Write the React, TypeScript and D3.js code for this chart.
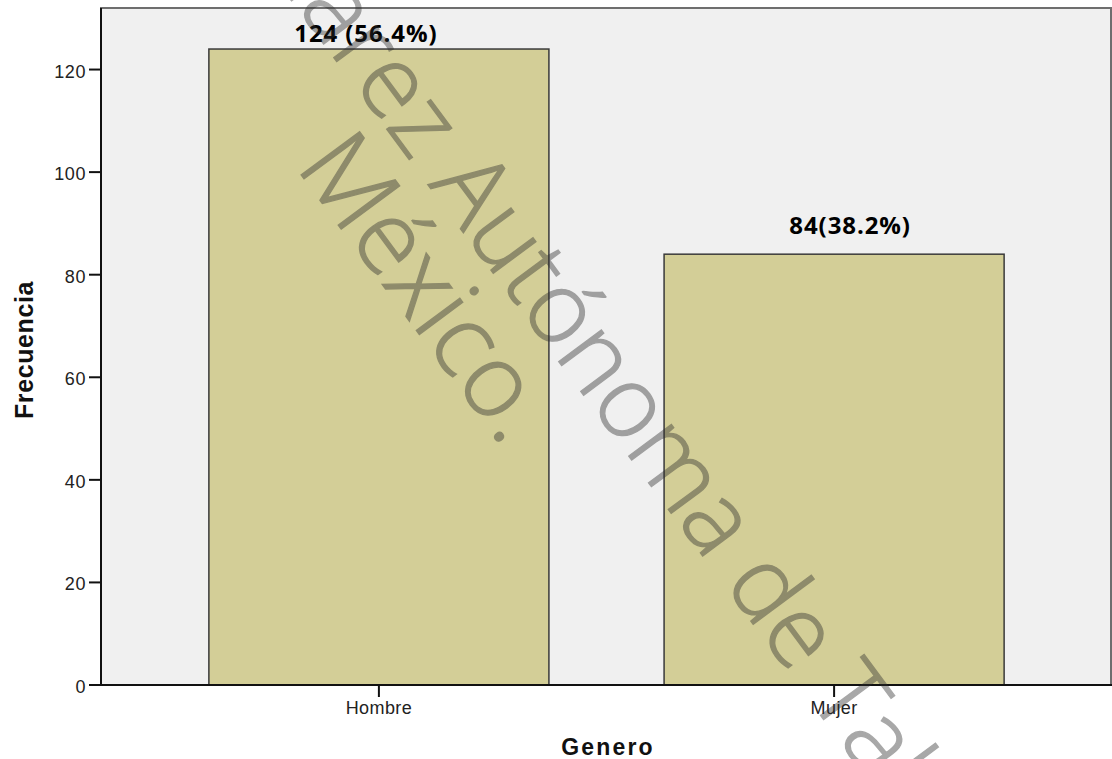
import React from "react";
import * as d3 from "d3";

const categories = ["Hombre", "Mujer"];
const counts = [124, 84];
const barLabels = ["124 (56.4%)", "84(38.2%)"];
const yTicks = [0, 20, 40, 60, 80, 100, 120];
const xTitle = "Genero";
const yTitle = "Frecuencia";
const watermarkLine1a = "Universidad Juárez";
const watermarkLine1b = "Autónoma de Tabasco";
const watermarkLine2 = "México.";

const W = 1112;
const H = 759;
const LEFT = 101;
const RIGHT = 1111;
const TOP = 8;
const BOTTOM = 685;
const LABEL_DX = [-13, 16];
const LABEL_DY = [-7, -20];

export default function App() {
  const x = d3
    .scaleBand<string>()
    .domain(categories)
    .range([LEFT, RIGHT + 1])
    .paddingInner(0.253)
    .paddingOuter(0.237);
  const y = d3.scaleLinear().domain([0, 132]).range([BOTTOM, TOP]);

  return (
    <svg
      width={W}
      height={H}
      style={{ position: "absolute", left: 0, top: 0, background: "#fff" }}
    >
      <rect
        x={LEFT}
        y={TOP}
        width={RIGHT - LEFT}
        height={BOTTOM - TOP}
        fill="#f0f0f0"
        stroke="#6e6e6e"
        strokeWidth={2}
      />
      {categories.map((c, i) => (
        <rect
          key={c}
          x={x(c)}
          y={y(counts[i])}
          width={x.bandwidth()}
          height={y(0) - y(counts[i])}
          fill="#d3ce97"
          stroke="#3a3a3a"
          strokeWidth={1.5}
        />
      ))}
      {/* axes */}
      <line x1={LEFT} x2={LEFT} y1={TOP} y2={BOTTOM} stroke="#111" strokeWidth={2} />
      <line x1={LEFT} x2={RIGHT + 1} y1={BOTTOM} y2={BOTTOM} stroke="#111" strokeWidth={2} />
      {yTicks.map((t) => (
        <g key={t}>
          <line x1={LEFT - 12} x2={LEFT} y1={y(t)} y2={y(t)} stroke="#111" strokeWidth={2} />
          <text
            x={86}
            y={y(t) + 8}
            textAnchor="end"
            fontFamily="Liberation Sans, Arial, sans-serif"
            fontSize={18}
            letterSpacing={0.6}
            fill="#222"
          >
            {t}
          </text>
        </g>
      ))}
      {categories.map((c) => {
        const cx = (x(c) as number) + x.bandwidth() / 2;
        return (
          <g key={c}>
            <line x1={cx} x2={cx} y1={BOTTOM} y2={BOTTOM + 12} stroke="#111" strokeWidth={2} />
            <text
              x={cx}
              y={714}
              textAnchor="middle"
              fontFamily="Liberation Sans, Arial, sans-serif"
              fontSize={18}
              letterSpacing={0.4}
              fill="#222"
            >
              {c}
            </text>
          </g>
        );
      })}
      <text
        x={(LEFT + RIGHT) / 2 + 2}
        y={755}
        textAnchor="middle"
        fontFamily="Liberation Sans, Arial, sans-serif"
        fontWeight="bold"
        fontSize={23}
        letterSpacing={2.2}
        fill="#111"
      >
        {xTitle}
      </text>
      <text
        transform={`translate(33, 350) rotate(-90)`}
        textAnchor="middle"
        fontFamily="Liberation Sans, Arial, sans-serif"
        fontWeight="bold"
        fontSize={25}
        letterSpacing={0.6}
        fill="#111"
      >
        {yTitle}
      </text>
      {/* bar annotations */}
      {categories.map((c, i) => {
        const cx = (x(c) as number) + x.bandwidth() / 2 + LABEL_DX[i];
        return (
          <text
            key={c}
            x={cx}
            y={y(counts[i]) + LABEL_DY[i]}
            textAnchor="middle"
            fontFamily="Open Sans, sans-serif"
            fontWeight="bold"
            fontSize={24}
            letterSpacing={0.9}
            fill="#000"
          >
            {barLabels[i]}
          </text>
        );
      })}
      {/* watermark */}
      <g
        transform="rotate(53.5)"
        fontFamily="Open Sans, sans-serif"
        fontWeight={300}
        fill="#2d2d2d"
        stroke="#2d2d2d"
        strokeWidth={1.3}
        opacity={0.41}
      >
        <text x={376} y={-234} textAnchor="end" fontSize={100}>
          {watermarkLine1a}
        </text>
        <text x={403} y={-234} textAnchor="start" fontSize={100}>
          {watermarkLine1b}
        </text>
        <text x={660} y={-138} textAnchor="end" fontSize={102}>
          {watermarkLine2}
        </text>
      </g>
    </svg>
  );
}
